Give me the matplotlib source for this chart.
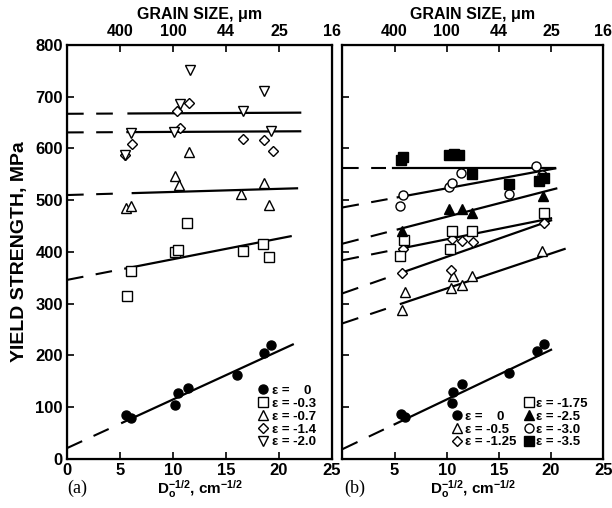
import matplotlib
matplotlib.use("Agg")
import matplotlib.pyplot as plt
from matplotlib.lines import Line2D

plt.rcParams['font.family'] = ['DejaVu Sans Condensed', 'Liberation Sans', 'DejaVu Sans']
plt.rcParams['font.stretch'] = 'condensed'
plt.rcParams['font.weight'] = 'bold'
plt.rcParams['mathtext.fontset'] = 'custom'
plt.rcParams['mathtext.rm'] = 'Liberation Sans:bold'
plt.rcParams['mathtext.it'] = 'Liberation Sans:italic:bold'

# ---- data: D0^-1/2 (cm^-1/2) vs yield strength (MPa) ----
grain_ticks = [5, 10, 15, 20, 25]
grain_labels = ['400', '100', '44', '25', '16']
y_ticks = [0, 100, 200, 300, 400, 500, 600, 700, 800]

# panel (a)
a_eps = ['0', '-0.3', '-0.7', '-1.4', '-2.0']
a_x = [
    [5.6, 6.0, 10.2, 10.5, 11.4, 16.0, 18.6, 19.2],
    [5.7, 6.0, 10.2, 10.5, 11.3, 16.6, 18.5, 19.1],
    [5.6, 6.0, 10.2, 10.6, 11.5, 16.4, 18.6, 19.1],
    [5.5, 6.1, 10.4, 10.7, 11.5, 16.6, 18.6, 19.4],
    [5.5, 6.0, 10.1, 10.7, 11.6, 16.6, 18.6, 19.2],
]
a_y = [
    [85, 79, 104, 127, 138, 163, 204, 221],
    [315, 363, 400, 404, 456, 402, 415, 390],
    [485, 488, 546, 529, 594, 512, 533, 490],
    [588, 608, 673, 640, 687, 619, 617, 596],
    [588, 629, 631, 685, 752, 673, 712, 633],
]
# fitted lines: intercept, slope, end of dashed part, solid start, solid end
a_fit0 = [21, 346, 510, 631, 667]
a_slope = [9.4, 4.0, 0.6, 0.1, 0.1]
a_dash_end = [4.4, 4.6, 4.6, 4.6, 4.6]
a_solid = [(5.2, 21.3), (5.5, 21.1), (6.2, 21.7), (5.7, 22.0), (5.8, 22.0)]

# panel (b)
b_eps = ['0', '-0.5', '-1.25', '-1.75', '-2.5', '-3.0', '-3.5']
b_x = [
    [5.6, 6.0, 10.5, 10.6, 11.5, 16.0, 18.7, 19.3],
    [5.7, 6.0, 10.4, 10.6, 11.5, 12.4, 19.1],
    [5.7, 5.8, 10.4, 10.5, 11.5, 12.5, 19.3],
    [5.5, 5.9, 10.3, 10.5, 12.4, 19.3],
    [5.7, 10.2, 11.5, 12.4, 19.2],
    [5.5, 5.8, 10.2, 10.5, 11.4, 16.0, 18.6, 19.1],
    [5.6, 5.8, 10.2, 10.7, 11.2, 12.4, 16.0, 18.8, 19.3],
]
b_y = [
    [87, 81, 108, 129, 144, 167, 208, 223],
    [287, 323, 331, 354, 336, 354, 402],
    [360, 406, 365, 425, 421, 419, 456],
    [392, 423, 406, 440, 440, 475],
    [440, 483, 483, 475, 508],
    [488, 511, 525, 533, 552, 512, 567, 548],
    [578, 584, 588, 590, 588, 550, 531, 537, 542],
]
b_fit0 = [19, 262, 320, 384, 416, 486, 562]
b_slope = [9.6, 6.75, 7.05, 4.05, 5.2, 3.7, 0.0]
b_dash_end = [4.2, 4.8, 5.0, 4.8, 4.6, 4.6, 4.2]
b_solid = [(5.0, 20.0), (5.6, 21.3), (5.7, 20.0), (5.5, 20.0), (5.3, 20.5), (5.3, 20.4), (4.8, 20.4)]

a_marker = [('o', True), ('s', False), ('^', False), ('D', False), ('v', False)]
b_marker = [('o', True), ('^', False), ('D', False), ('s', False), ('^', True), ('o', False), ('s', True)]


def style(m, filled):
    ms = {'o': 6.5, 's': 6.5, '^': 6.5, 'v': 6.5, 'D': 5.0}[m]
    return dict(marker=m, ms=ms, mec='black', mew=1.0,
                mfc='black' if filled else 'white', ls='none')


def panel(ax, xs, ys, marks, fit0, slope, dash_end, solid):
    for x, y, (m, f) in zip(xs, ys, marks):
        ax.plot(x, y, zorder=3, **style(m, f))
    for b0, s, de, (s0, s1) in zip(fit0, slope, dash_end, solid):
        ax.plot([0, de], [b0, b0 + s * de], color='black', lw=1.5,
                ls=(0, (8, 6)), zorder=2)
        ax.plot([s0, s1], [b0 + s * s0, b0 + s * s1], color='black', lw=1.6, zorder=2)
    ax.set_xlim(0, 25)
    ax.set_ylim(0, 800)
    ax.set_yticks(y_ticks)
    ax.tick_params(direction='in', length=5, width=1.2, labelsize=12, right=False, pad=3)
    for sp in ax.spines.values():
        sp.set_linewidth(1.6)
    top = ax.twiny()
    top.set_xlim(0, 25)
    top.set_xticks(grain_ticks)
    top.set_xticklabels(grain_labels)
    top.tick_params(direction='in', length=5, width=1.2, labelsize=11.5, pad=4)
    top.set_xlabel('GRAIN SIZE, \u03bcm', fontsize=11.5, fontweight='bold', labelpad=4)
    ax.set_xlabel('D$_\\mathrm{o}^{-1/2}$, cm$^{-1/2}$', fontsize=11, fontweight='bold', labelpad=0)


fig = plt.figure(figsize=(6.12, 5.08), dpi=100)
ax1 = fig.add_axes([0.1095, 0.0965, 0.433, 0.815])
ax2 = fig.add_axes([0.5596, 0.0965, 0.426, 0.815])

panel(ax1, a_x, a_y, a_marker, a_fit0, a_slope, a_dash_end, a_solid)
panel(ax2, b_x, b_y, b_marker, b_fit0, b_slope, b_dash_end, b_solid)

ax1.set_xticks([0, 5, 10, 15, 20, 25])
ax2.set_xticks([5, 10, 15, 20, 25])
ax2.set_yticklabels([])
ax1.set_ylabel('YIELD STRENGTH, MPa', fontsize=14, fontweight='bold', labelpad=5)

# legends
h1 = [Line2D([], [], **style(m, f)) for m, f in a_marker]
l1 = ['\u03b5 =    0' if e == '0' else '\u03b5 = ' + e for e in a_eps]
ax1.legend(h1, l1, loc='lower right', bbox_to_anchor=(0.98, 0.0), frameon=False,
           handlelength=0.7, handletextpad=0.3, labelspacing=0.05,
           borderpad=0.3, prop={'size': 9.5, 'weight': 'bold'})

h2 = [Line2D([], [], ls='none')] + [Line2D([], [], **style(m, f)) for m, f in b_marker]
l2 = [''] + ['\u03b5 =    0' if e == '0' else '\u03b5 = ' + e for e in b_eps]
ax2.legend(h2, l2, loc='lower right', bbox_to_anchor=(0.98, 0.0), ncol=2, frameon=False,
           handlelength=0.7, handletextpad=0.2, labelspacing=0.05, columnspacing=0.6,
           borderpad=0.3, prop={'size': 9.5, 'weight': 'bold'})

fig.text(0.11, 0.03, '(a)', fontsize=13, family='Liberation Serif', fontweight='normal',
         stretch='normal')
fig.text(0.562, 0.03, '(b)', fontsize=13, family='Liberation Serif', fontweight='normal',
         stretch='normal')

fig.savefig('out.png', dpi=100)
